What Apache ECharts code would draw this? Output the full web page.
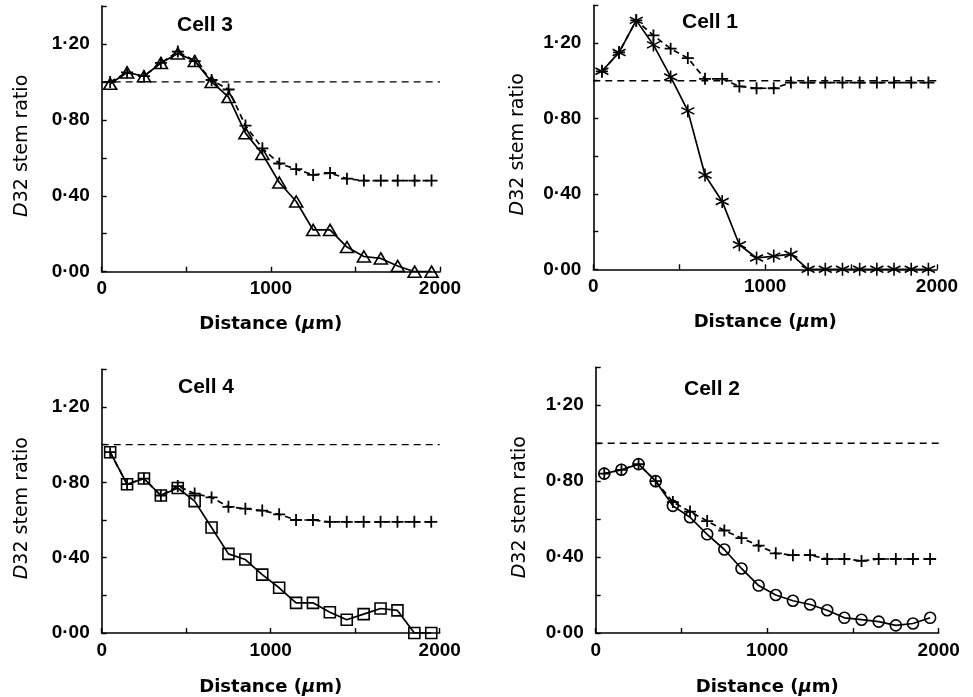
<!DOCTYPE html>
<html><head><meta charset="utf-8">
<script src="https://cdn.jsdelivr.net/npm/echarts@6/dist/echarts.min.js"></script>
<style>html,body{margin:0;padding:0;background:#fff}#c{width:973px;height:697px}</style>
</head><body><div id="c"></div>
<script>
// ---- data ----
const distance = [50,150,250,350,450,550,650,750,850,950,1050,1150,1250,1350,1450,1550,1650,1750,1850,1950];
const refX = [0, 2000];
const refY = [1.0, 1.0];
const xTickLabels = ['0','1000','2000'];
const yTickLabels = ['0·00','0·40','0·80','1·20'];

const cell3Triangle = [0.99,1.05,1.03,1.10,1.15,1.11,1.00,0.92,0.73,0.62,0.47,0.37,0.22,0.22,0.13,0.08,0.07,0.03,0.00,0.00];
const cell3Plus     = [1.00,1.05,1.03,1.10,1.16,1.11,1.01,0.96,0.77,0.65,0.57,0.54,0.51,0.52,0.49,0.48,0.48,0.48,0.48,0.48];

const cell1Star = [1.05,1.15,1.32,1.19,1.02,0.84,0.50,0.36,0.13,0.06,0.07,0.08,0.00,0.00,0.00,0.00,0.00,0.00,0.00,0.00];
const cell1Plus = [1.05,1.15,1.32,1.24,1.17,1.12,1.01,1.01,0.97,0.96,0.96,0.99,0.99,0.99,0.99,0.99,0.99,0.99,0.99,0.99];

const cell4Square = [0.96,0.79,0.82,0.73,0.77,0.70,0.56,0.42,0.39,0.31,0.24,0.16,0.16,0.11,0.07,0.10,0.13,0.12,0.00,0.00];
const cell4Plus   = [0.96,0.79,0.82,0.73,0.78,0.74,0.72,0.67,0.66,0.65,0.63,0.60,0.60,0.59,0.59,0.59,0.59,0.59,0.59,0.59];

const cell2Circle = [0.84,0.86,0.89,0.80,0.67,0.61,0.52,0.44,0.34,0.25,0.20,0.17,0.15,0.12,0.08,0.07,0.06,0.04,0.05,0.08];
const cell2Plus   = [0.84,0.86,0.89,0.80,0.69,0.64,0.59,0.54,0.50,0.46,0.42,0.41,0.41,0.39,0.39,0.38,0.39,0.39,0.39,0.39];

// ---- styles ----
const NUMFONT = 'Liberation Sans';
const PLUS = 'path://M0,5L10,5M5,0L5,10';
const TRI = 'path://M5,0L10,8.66L0,8.66Z';
const STAR = 'path://M5,0L5,10M0.7,2.5L9.3,7.5M0.7,7.5L9.3,2.5';
const SQUARE = 'path://M0,0L10,0L10,10L0,10Z';

const panels = [
  {title:'Cell 3', titleLeft:177, titleTop:15, main:cell3Triangle, plus:cell3Plus, sym:TRI, size:[13,11],
   grid:{left:101.7, top:6, width:338.3, height:265.7}, xGap:44, yGap:70},
  {title:'Cell 1', titleLeft:682, titleTop:12, main:cell1Star, plus:cell1Plus, sym:STAR, size:13,
   grid:{left:593.3, top:5.3, width:343.7, height:264}, xGap:44, yGap:66},
  {title:'Cell 4', titleLeft:178, titleTop:377, main:cell4Square, plus:cell4Plus, sym:SQUARE, size:11,
   grid:{left:101.7, top:369.3, width:338, height:264.7}, xGap:45, yGap:70},
  {title:'Cell 2', titleLeft:684, titleTop:379, main:cell2Circle, plus:cell2Plus, sym:'circle', size:11,
   grid:{left:595.7, top:367.3, width:343, height:266}, xGap:45, yGap:66}
];

const pair = (xs, ys) => xs.map((x, i) => [x, ys[i]]);

const option = {
  animation: false,
  backgroundColor: '#fff',
  title: [], grid: [], xAxis: [], yAxis: [], series: []
};

panels.forEach((p, k) => {
  option.title.push({
    text: p.title, left: p.titleLeft, top: p.titleTop, padding: 0,
    textStyle: {fontFamily: NUMFONT, fontSize: 21, fontWeight: 'bold', color: '#000'}
  });
  option.grid.push(Object.assign({containLabel: false}, p.grid));
  option.xAxis.push({
    type: 'value', gridIndex: k, min: 0, max: 2000, interval: 500,
    name: 'Distance ({i|μ}m)', nameLocation: 'middle', nameGap: p.xGap,
    nameTextStyle: {fontFamily: 'DejaVu Sans', fontSize: 18, fontWeight: 'bold', color: '#000',
      rich: {i: {fontFamily: 'DejaVu Sans', fontSize: 18, fontWeight: 'bold', fontStyle: 'italic', color: '#000'}}},
    axisLine: {show: true, onZero: false, lineStyle: {color: '#000', width: 1.6}},
    axisTick: {show: true, inside: true, length: 5, lineStyle: {color: '#000', width: 1.4}},
    axisLabel: {margin: 8, fontFamily: NUMFONT, fontSize: 19, fontWeight: 'bold', color: '#000',
      formatter: v => (v % 1000 === 0 ? xTickLabels[v / 1000] : '')},
    splitLine: {show: false}
  });
  option.yAxis.push({
    type: 'value', gridIndex: k, min: 0, max: 1.4, interval: 0.2,
    name: '{i|D}32 stem ratio', nameLocation: 'middle', nameGap: p.yGap, nameRotate: 90,
    nameTextStyle: {fontFamily: 'DejaVu Sans', fontSize: 19, color: '#000', padding: [0, 14, 0, 0],
      rich: {i: {fontFamily: 'DejaVu Sans', fontSize: 19, fontStyle: 'italic', color: '#000'}}},
    axisLine: {show: true, onZero: false, lineStyle: {color: '#000', width: 1.6}},
    axisTick: {show: true, inside: true, length: 5, lineStyle: {color: '#000', width: 1.4}},
    axisLabel: {margin: 12, fontFamily: NUMFONT, fontSize: 19, fontWeight: 'bold', color: '#000',
      formatter: v => {
        const q = Math.round(v * 100);
        return (q % 40 === 0 && q <= 120) ? yTickLabels[q / 40] : '';
      }},
    splitLine: {show: false}
  });
  // reference dashed line at 1.00
  option.series.push({
    type: 'line', xAxisIndex: k, yAxisIndex: k, data: pair(refX, refY),
    symbol: 'none', silent: true,
    lineStyle: {color: '#000', width: 1.4, type: [7, 5]}
  });
  // plus series (dashed)
  option.series.push({
    type: 'line', xAxisIndex: k, yAxisIndex: k, data: pair(distance, p.plus),
    symbol: PLUS, symbolSize: 12, silent: true,
    lineStyle: {color: '#000', width: 1.7, type: [6, 4]},
    itemStyle: {color: 'transparent', borderColor: '#000', borderWidth: 1.8}
  });
  // main series (solid)
  option.series.push({
    type: 'line', xAxisIndex: k, yAxisIndex: k, data: pair(distance, p.main),
    symbol: p.sym, symbolSize: p.size, silent: true,
    lineStyle: {color: '#000', width: 1.7},
    itemStyle: {color: 'transparent', borderColor: '#000', borderWidth: 1.6}
  });
});

const chart = echarts.init(document.getElementById('c'), null, {renderer: 'canvas'});
chart.setOption(option);
</script>
</body></html>
